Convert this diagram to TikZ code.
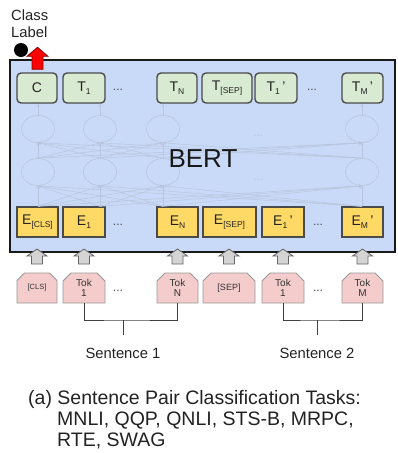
\documentclass[tikz,border=0pt]{standalone}
\usepackage{fontspec}
\setmainfont{Liberation Sans}
\usetikzlibrary{shapes.geometric,shapes.misc,arrows.meta,calc}
\definecolor{bertblue}{HTML}{C9DAF8}
\definecolor{tgreen}{HTML}{D9EAD3}
\definecolor{eyellow}{HTML}{FFD966}
\definecolor{tokpink}{HTML}{F4CCCC}
\definecolor{faint}{RGB}{184,197,222}
\definecolor{boxborder}{HTML}{4A4A4A}
\definecolor{txt}{HTML}{222222}
\newcommand\fs[1]{\fontsize{#1}{#1}\selectfont}
\newcommand\subx[1]{\raisebox{-3.5pt}{\fs{8.5}#1}}
\begin{document}
\begin{tikzpicture}[x=1pt,y=-1pt,
  tbox/.style={draw=boxborder, line width=1.4pt, fill=tgreen, rounded corners=4pt, minimum height=30pt, inner sep=0pt, font=\fs{14}, text=txt},
  ebox/.style={draw=boxborder, line width=1.2pt, fill=eyellow, minimum height=30pt, inner sep=0pt, font=\fs{14}, text=txt},
  tokbox/.style={draw=gray!80, line width=0.8pt, fill=tokpink, chamfered rectangle, chamfered rectangle corners={north west,north east}, chamfered rectangle xsep=4pt, chamfered rectangle ysep=4pt, minimum height=30pt, inner sep=0pt, font=\fontsize{10}{10.5}\selectfont, align=center, text=black!80},
  neuron/.style={ellipse, draw=faint, line width=0.6pt, minimum width=33pt, minimum height=27pt, inner sep=0pt},
  link/.style={draw=faint, line width=0.5pt, -{Stealth[length=3pt,width=3pt]}},
  dots/.style={font=\fs{12}, text=black!70, inner sep=0pt},
  fdots/.style={font=\fs{12}, text=faint, inner sep=0pt},
  bracket/.style={draw=black!75, line width=1pt},
  lbl/.style={font=\fs{14.8}, text=txt, inner sep=0pt, anchor=base},
  capt/.style={font=\fs{19.5}, text=txt, inner sep=0pt, anchor=base west},
  uparrow/.pic={\draw[draw=black!60, fill=black!17, line width=0.8pt] (0,0) -- (10,7) -- (5.5,7) -- (5.5,15) -- (-5.5,15) -- (-5.5,7) -- (-10,7) -- cycle;},
  redarrow/.pic={\draw[draw=red!55!black, fill=red, line width=0.8pt] (0,0) -- (10.5,9) -- (5.5,9) -- (5.5,22) -- (-5.5,22) -- (-5.5,9) -- (-10.5,9) -- cycle;}
]
\useasboundingbox (0,0) rectangle (398,453);

% BERT box
\node[draw=black!90, line width=2pt, fill=bertblue, minimum width=385pt, minimum height=192pt, inner sep=0pt] (bert) at (202.5,156) {};

% neurons
\node[neuron] (a1) at (38,129) {};
\node[neuron] (a2) at (100,129) {};
\node[neuron] (a3) at (163,129) {};
\node[neuron] (a4) at (362,129) {};
\node[neuron] (b1) at (38,172) {};
\node[neuron] (b2) at (100,172) {};
\node[neuron] (b3) at (163,172) {};
\node[neuron] (b4) at (362,172) {};
\node[fdots] (nd1) at (258,136) {...};
\node[fdots] (nd2) at (258,180) {...};

% top row
\node[tbox, minimum width=40pt] (tc) at (37,88) {C};
\node[tbox, minimum width=42pt] (t1) at (84,88) {T\subx{1}};
\node[tbox, minimum width=40pt] (tn) at (177,88) {T\subx{N}};
\node[tbox, minimum width=50pt] (tsep) at (227,88) {T\subx{[SEP]}};
\node[tbox, minimum width=42pt] (t1p) at (276,88) {T\subx{1}\,'};
\node[tbox, minimum width=41pt] (tmp) at (362.5,88) {T\subx{M}\,'};
\node[dots] (td1) at (118,90) {...};
\node[dots] (td2) at (312,90) {...};

% E row
\node[ebox, minimum width=41pt] (ecls) at (37.5,222) {E\subx{[CLS]}};
\node[ebox, minimum width=42pt] (e1) at (84,222) {E\subx{1}};
\node[ebox, minimum width=41pt] (en) at (177.5,222) {E\subx{N}};
\node[ebox, minimum width=53pt] (esep) at (229.5,222) {E\subx{[SEP]}};
\node[ebox, minimum width=42pt] (e1p) at (283,222) {E\subx{1}\,'};
\node[ebox, minimum width=41pt] (emp) at (362.5,222) {E\subx{M}\,'};
\node[dots] (ed1) at (118,225) {...};
\node[dots] (ed2) at (318,225) {...};

% links
\foreach \i in {1,...,4}{
  \draw[link] (a\i.north) -- (a\i |- tc.south);
  \foreach \j in {1,...,4}{
    \draw[link] (b\j.north) -- (a\i.south);
    \draw[link] (b\j |- ecls.north) -- (b\i.south);
  }
}

\node[font=\fs{26}, text=black!90, inner sep=0pt] (bertlbl) at (203,158.5) {BERT};

% token row
\node[tokbox, minimum width=40pt, font=\fs{7.5}] (tcls) at (37,288) {[CLS]};
\node[tokbox, minimum width=42pt] (tok1) at (84,288) {Tok\\1};
\node[tokbox, minimum width=41pt] (tokn) at (177.5,288) {Tok\\N};
\node[tokbox, minimum width=52pt, font=\fs{9}] (tsepin) at (229,288) {[SEP]};
\node[tokbox, minimum width=42pt] (tok1p) at (283,288) {Tok\\1};
\node[tokbox, minimum width=41pt] (tokm) at (362.5,288) {Tok\\M};
\node[dots] (kd1) at (118,291) {...};
\node[dots] (kd2) at (318,291) {...};

% gray up arrows
\foreach \n in {tcls,tok1,tokn,tsepin,tok1p,tokm}{
  \pic at ($(\n.north |- bert.south)+(0,-4)$) {uparrow};
}

% class label
\node[lbl, anchor=base west] (cl1) at (11,20.5) {Class};
\node[lbl, anchor=base west] (cl2) at (11,37) {Label};
\node[circle, fill=black, minimum size=14pt, inner sep=0pt] (dot) at (21,50) {};
\pic at ($(tc.north)+(0.5,-25)$) {redarrow};

% brackets
\coordinate (s1a) at (123,320);
\coordinate (s1b) at (123,335);
\coordinate (s2a) at (317,320);
\coordinate (s2b) at (317,335);
\draw[bracket] (tok1.south) |- (s1a) -| (tokn.south);
\draw[bracket] (s1a) -- (s1b);
\draw[bracket] (tok1p.south) |- (s2a) -| (tokm.south);
\draw[bracket] (s2a) -- (s2b);
\node[lbl] (sen1) at (123,358) {Sentence 1};
\node[lbl] (sen2) at (317,358) {Sentence 2};

% caption
\node[capt] (cap1) at (28,404) {(a) Sentence Pair Classification Tasks:};
\node[capt] (cap2) at (57,425) {MNLI, QQP, QNLI, STS-B, MRPC,};
\node[capt] (cap3) at (57,446) {RTE, SWAG};
\end{tikzpicture}
\end{document}
